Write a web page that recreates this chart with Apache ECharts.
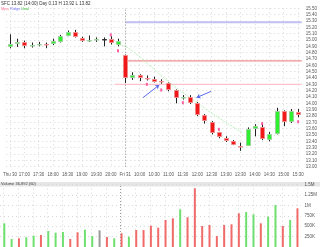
<!DOCTYPE html>
<html><head><meta charset="utf-8">
<script src="https://cdn.jsdelivr.net/npm/echarts/dist/echarts.min.js"></script>
<style>html,body{margin:0;padding:0;background:#fff}#c{width:320px;height:247px}</style>
</head><body><div id="c"></div>
<script>
// ---- data ----
const categories = ['16:30','16:45','17:00','17:15','17:30','17:45','18:00','18:15','18:30','18:45','19:00','19:15','19:30','19:45','20:00','20:15',
  '09:30','09:45','10:00','10:15','10:30','10:45','11:00','11:15','11:30','11:45','12:00','12:15','12:30','12:45','13:00','13:15','13:30','13:45','14:00','14:15','14:30','14:45','15:00','15:15','15:30'];
const dateLabels = {0: 'Thu 30', 16: 'Fri 31'};
const opens  = [14.89,14.94,14.97,14.90,14.92,14.93,14.94,14.97,15.07,15.13,15.03,14.99,14.99,15.01,15.02,14.93,14.76,14.40,14.45,14.40,14.39,14.35,14.32,14.21,14.08,14.10,14.00,13.81,13.71,13.54,13.46,13.41,13.33,13.33,13.60,13.63,13.42,13.51,13.88,13.70,13.87];
const closes = [14.94,14.97,14.91,14.92,14.94,14.92,14.99,15.07,15.13,15.05,14.99,15.00,15.01,15.01,14.95,14.99,14.40,14.45,14.41,14.39,14.35,14.33,14.21,14.08,14.10,14.01,13.81,13.71,13.54,13.46,13.41,13.35,13.32,13.60,13.64,13.44,13.51,13.88,13.70,13.88,13.82];
const lows   = [14.87,14.89,14.87,14.88,14.90,14.87,14.92,14.96,15.06,15.04,14.97,14.97,14.97,14.90,14.93,14.90,14.32,14.37,14.35,14.36,14.33,14.31,14.19,14.00,14.06,13.99,13.80,13.68,13.51,13.45,13.39,13.34,13.25,13.33,13.48,13.42,13.40,13.51,13.64,13.69,13.78];
const highs  = [15.09,15.02,14.99,14.96,14.97,14.96,15.02,15.08,15.15,15.16,15.05,15.07,15.04,15.04,15.06,15.02,14.77,14.49,14.46,14.44,14.42,14.38,14.33,14.22,14.13,14.13,14.02,13.83,13.72,13.55,13.48,13.42,13.38,13.62,13.67,13.67,13.55,13.93,13.89,13.91,13.91];
const volumesK = [570,192,209,233,272,288,385,344,361,192,353,416,264,401,240,209,329,248,409,409,512,464,649,690,906,714,1411,505,529,264,529,546,810,841,786,570,728,1010,505,649,930];
const priceMin = 13.0, priceMax = 15.5, priceStep = 0.1;
const volMax = 1500, volStep = 250;
const levelBlue = 15.28, levelBlueFrom = 16;
const levelRed = 14.67, levelRedFrom = 16.4;
const levelPink = 14.30, levelPinkFrom = 14.6;
const curveX = [15.0, 16.45, 21.2, 23.2, 26.6, 28.6, 32.4];
const curveY = [14.93, 14.87, 14.42, 14.24, 13.96, 13.80, 13.53];
const arrow1 = [[18.47, 14.09], [20.73, 14.29]];
const arrow2 = [[27.93, 14.19], [25.90, 14.09]];
const markerX = [14, 15, 19, 21, 24, 29, 35, 40];
const markerY = [15.08, 14.83, 14.30, 14.21, 14.01, 13.59, 13.68, 13.71];
const lastPrice = 13.82;
const titleText = 'SFC 13.82 (14:00) Day 0.13 H 13.92 L 13.82';
const volumeTitle = 'Volume 36,892 (60)';
const legendWords = ['Mpa', 'Ridge', 'Unal'];

// ---- chart ----
const FONT = 'Liberation Sans';
const n = categories.length;
const candleData = categories.map((c, i) => [i, opens[i], closes[i], lows[i], highs[i]]);
const volData = volumesK.map((v, i) => ({
  value: v,
  itemStyle: { color: closes[i] > opens[i] ? '#6fe06f' : (closes[i] < opens[i] ? '#f06a6a' : '#9a9a9a') }
}));

function renderCandle(params, api) {
  const i = api.value(0), o = api.value(1), c = api.value(2), l = api.value(3), h = api.value(4);
  const pl = api.coord([i, l]), ph = api.coord([i, h]);
  const po = api.coord([i, o]), pc = api.coord([i, c]);
  const w = Math.round(api.size([1, 0])[0] * 0.74);
  const x = Math.round(po[0]);
  const top = Math.round(Math.min(po[1], pc[1]));
  const hgt = Math.max(Math.round(Math.abs(po[1] - pc[1])), 1);
  const up = c > o, flat = c === o;
  const fill = flat ? '#333' : (up ? '#2ef02e' : '#f01818');
  const stroke = flat ? '#333' : (up ? '#9ad09a' : '#f08a8a');
  return {
    type: 'group', children: [
      { type: 'line', shape: { x1: x + 0.5, y1: ph[1], x2: x + 0.5, y2: pl[1] }, style: { stroke: '#222', lineWidth: 1 } },
      { type: 'rect', shape: { x: x - Math.floor(w / 2) + 0.5, y: top + 0.5, width: w - 1, height: Math.max(hgt - 1, 0.5) },
        style: { fill: fill, stroke: stroke, lineWidth: 1 } }
    ]
  };
}

const chart = echarts.init(document.getElementById('c'), null, { renderer: 'canvas' });
const gridL = 0, gridR = 16.5;
const option = {
  animation: false,
  backgroundColor: '#fff',
  textStyle: { fontFamily: FONT },
  grid: [
    { left: gridL, right: gridR, top: 8.3, bottom: 247 - 166.7 },
    { left: gridL, right: gridR, top: 184.6, bottom: 0 }
  ],
  xAxis: [
    { type: 'category', gridIndex: 0, data: categories, boundaryGap: true,
      axisLine: { show: false }, axisTick: { show: false },
      axisLabel: { interval: 1, fontSize: 4.5, color: '#555', margin: 6, fontFamily: FONT,
        formatter: (v, i) => dateLabels[i] !== undefined ? dateLabels[i] : v },
      splitLine: { show: true, interval: 1, alignWithLabel: true, lineStyle: { color: '#d8d8d8', type: [1, 3], width: 1 } } },
    { type: 'category', gridIndex: 1, data: categories, boundaryGap: true,
      axisLine: { show: false }, axisTick: { show: false }, axisLabel: { show: false },
      splitLine: { show: true, interval: 1, alignWithLabel: true, lineStyle: { color: '#d8d8d8', type: [1, 3], width: 1 } } },
    { type: 'value', gridIndex: 0, min: -0.5, max: n - 0.5, show: false, position: 'top' }
  ],
  yAxis: [
    { type: 'value', gridIndex: 0, position: 'right', min: priceMin, max: priceMax, interval: priceStep,
      axisLine: { show: false }, axisTick: { show: false },
      axisLabel: { fontSize: 4.5, color: '#555', margin: 4, fontFamily: FONT, formatter: v => v.toFixed(2) },
      splitLine: { show: true, lineStyle: { color: '#d8d8d8', type: [1, 3], width: 1 } } },
    { type: 'value', gridIndex: 1, position: 'right', min: 0, max: volMax, interval: volStep,
      axisLine: { show: false }, axisTick: { show: false },
      axisLabel: { fontSize: 4.5, color: '#555', margin: 4, fontFamily: FONT,
        formatter: v => v === 0 ? '' : (v >= 1000 ? (v / 1000) + 'M' : v + 'K') },
      splitLine: { show: true, lineStyle: { color: '#d8d8d8', type: [1, 3], width: 1 } } }
  ],
  series: [
    { type: 'line', xAxisIndex: 0, yAxisIndex: 0, data: [], silent: true,
      markLine: { silent: true, symbol: 'none', label: { show: false },
        lineStyle: { color: '#9a9a9a', type: [1, 2], width: 1 }, data: [{ xAxis: categories[16] }] } },
    { type: 'bar', xAxisIndex: 1, yAxisIndex: 1, data: [], silent: true,
      markLine: { silent: true, symbol: 'none', label: { show: false },
        lineStyle: { color: '#9a9a9a', type: [1, 2], width: 1 }, data: [{ xAxis: categories[16] }] } },
    { type: 'line', xAxisIndex: 2, yAxisIndex: 0, symbol: 'none', silent: true,
      lineStyle: { color: '#c0c0f2', width: 2 }, data: [[levelBlueFrom, levelBlue], [n - 0.5, levelBlue]] },
    { type: 'line', xAxisIndex: 2, yAxisIndex: 0, symbol: 'none', silent: true,
      lineStyle: { color: '#f09090', width: 1.2 }, data: [[levelRedFrom, levelRed], [n - 0.5, levelRed]] },
    { type: 'line', xAxisIndex: 2, yAxisIndex: 0, symbol: 'none', silent: true,
      lineStyle: { color: '#ffc2ca', width: 1.2 }, data: [[levelPinkFrom, levelPink], [n - 0.5, levelPink]] },
    { type: 'line', xAxisIndex: 2, yAxisIndex: 0, symbol: 'none', smooth: true, silent: true,
      lineStyle: { color: '#a6eea6', width: 1, type: [1, 1] }, data: curveX.map((x, i) => [x, curveY[i]]) },
    { type: 'custom', xAxisIndex: 0, yAxisIndex: 0, renderItem: renderCandle, data: candleData,
      encode: { x: 0, y: [1, 2, 3, 4] }, z: 5,
      markLine: { silent: true, symbol: 'none', lineStyle: { opacity: 0 },
        label: { show: true, position: 'end', distance: 3, formatter: lastPrice.toFixed(2), fontSize: 4.5, color: '#fff',
          backgroundColor: '#111', padding: [1, 2], fontFamily: FONT },
        data: [{ yAxis: lastPrice }] } },
    { type: 'lines', coordinateSystem: 'cartesian2d', xAxisIndex: 2, yAxisIndex: 0, z: 6, silent: true,
      symbol: ['none', 'arrow'], symbolSize: 4,
      lineStyle: { color: '#5a6aee', width: 1, opacity: 1 },
      data: [{ coords: arrow1 }, { coords: arrow2 }] },
    { type: 'scatter', xAxisIndex: 2, yAxisIndex: 0, symbol: 'rect', symbolSize: [2, 3], z: 6, silent: true,
      itemStyle: { color: '#ff3a8a' }, data: markerX.map((x, i) => [x, markerY[i]]) },
    { type: 'bar', xAxisIndex: 1, yAxisIndex: 1, barWidth: 2, data: volData, silent: true,
      markLine: { silent: true, symbol: 'none', lineStyle: { opacity: 0 },
        label: { show: true, position: 'end', distance: 3, formatter: volumesK[n - 1] + 'K', fontSize: 4.5, color: '#fff',
          backgroundColor: '#111', padding: [1, 2], fontFamily: FONT },
        data: [{ yAxis: volumesK[n - 1] }] } }
  ],
  graphic: [
    { type: 'rect', left: 0, top: 182, shape: { width: 320, height: 4.5 }, style: { fill: '#e6e6e6' }, z: 0, silent: true },
    { type: 'text', left: 1, top: 182.3, style: { text: volumeTitle, fontSize: 4, fill: '#444', fontFamily: FONT }, z: 10 },
    { type: 'text', left: 1, top: 1, style: { text: titleText, fontSize: 4.5, fill: '#333', fontFamily: FONT }, z: 10 },
    { type: 'text', left: 1, top: 6.5, style: { text: legendWords[0], fontSize: 4, fill: '#ff7090', fontFamily: FONT }, z: 10 },
    { type: 'text', left: 10, top: 6.5, style: { text: legendWords[1], fontSize: 4, fill: '#8080ff', fontFamily: FONT }, z: 10 },
    { type: 'text', left: 21, top: 6.5, style: { text: legendWords[2], fontSize: 4, fill: '#40c040', fontFamily: FONT }, z: 10 }
  ]
};
chart.setOption(option);
</script>
</body></html>
